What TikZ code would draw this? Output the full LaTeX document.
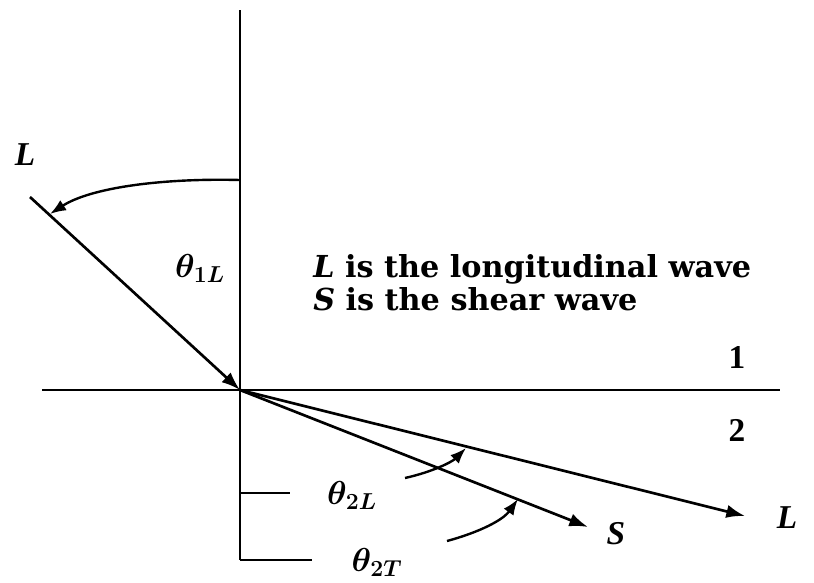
\documentclass[tikz,border=0pt]{standalone}
\usepackage{fontspec}
\setmainfont{Liberation Serif}
\newfontfamily\legendfont{DejaVu Serif}
\usetikzlibrary{arrows.meta}

\tikzset{
  ray/.style={line width=2pt, -{Latex[length=14pt,width=10pt]}},
  axis/.style={line width=1.5pt},
  marker/.style={line width=1.8pt, -{Latex[length=12pt,width=9pt]}},
  lbl/.style={inner sep=0.75pt, font=\fontsize{25}{27}\selectfont\bfseries},
  legend/.style={inner sep=0.75pt, font=\fontsize{22.7}{26}\selectfont\legendfont\bfseries},
  ang/.style={inner sep=0.75pt, font=\fontsize{27}{29}\selectfont\boldmath}
}

\begin{document}
\begin{tikzpicture}[x=0.75pt,y=0.75pt,yscale=-1,xscale=1]
\useasboundingbox (0,0) rectangle (814,582);

% Points of the interface
\coordinate (O) at (240,390);
\coordinate (vtop) at (240,10);
\coordinate (vbot) at (240,560);
\coordinate (hleft) at (42,390);
\coordinate (hright) at (780,390);

% Interface and normal
\draw [axis] (vtop) -- (vbot);
\draw [axis] (hleft) -- (hright);
\coordinate (tickL) at (290,493);
\coordinate (tickT) at (312,560);
\draw [axis] (240,493) -- (tickL);
\draw [axis] (vbot) -- (tickT);

% Incident longitudinal wave
\coordinate (inc) at (30,197);
\draw [ray] (inc) -- (O);

% Refracted waves
\coordinate (refL) at (745,516);
\coordinate (refS) at (588,527);
\draw [ray] (O) -- (refL);
\draw [ray] (O) -- (refS);

% Angle markers
\coordinate (arcA) at (240,180);
\coordinate (arcB) at (50,214);
\draw [marker] (arcA) .. controls (160,178) and (90,188) .. (arcB);
\coordinate (mLa) at (405,478);
\coordinate (mLb) at (466,448);
\draw [marker] (mLa) .. controls (432,472) and (452,462) .. (mLb);
\coordinate (mTa) at (447,541);
\coordinate (mTb) at (518,499);
\draw [marker] (mTa) .. controls (480,532) and (503,520) .. (mTb);

% Text Node
\node [lbl, anchor=center] (Linc) at (25,155) {\textit{L}};
\node [lbl, anchor=center] (Lref) at (787,518) {\textit{L}};
\node [lbl, anchor=center] (Sref) at (616,534) {\textit{S}};
\node [ang, anchor=center] (t1L) at (200,268) {$\theta_{1L}$};
\node [ang, anchor=center] (t2L) at (352,495) {$\theta_{2L}$};
\node [ang, anchor=center] (t2T) at (377,562) {$\theta_{2T}$};
\node [legend, anchor=base west] (lineL) at (312,277) {\textit{L} is the longitudinal wave};
\node [legend, anchor=base west] (lineS) at (312,310) {\textit{S} is the shear wave};
\node [lbl, anchor=center] (med1) at (737,357) {1};
\node [lbl, anchor=center] (med2) at (737,430) {2};
\end{tikzpicture}
\end{document}
